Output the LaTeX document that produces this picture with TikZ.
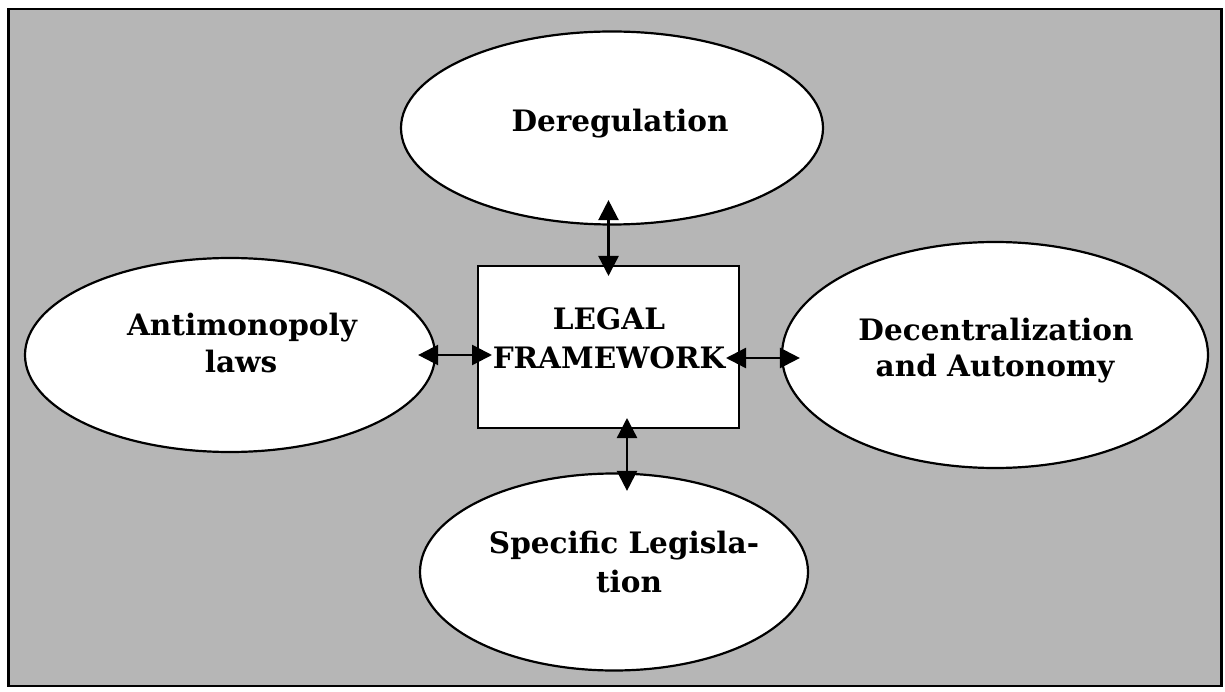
\documentclass[tikz,border=0pt]{standalone}
\usepackage{fontspec}
\setmainfont{DejaVu Serif}
\usetikzlibrary{shapes.geometric,arrows.meta}
\definecolor{bg}{RGB}{182,182,182}
\begin{document}
\begin{tikzpicture}[x=1pt,y=-1pt,
  oval/.style={ellipse,draw,line width=2.2pt,fill=white,inner sep=0pt},
  lbl/.style={font=\bfseries\fontsize{29.5}{36}\selectfont,inner sep=0pt,anchor=base},
  arr/.style={line width=2.4pt,{Triangle[length=20pt,width=20pt]}-{Triangle[length=20pt,width=20pt]}}]
\useasboundingbox (0,0) rectangle (1225,692);
\fill[white] (0,0) rectangle (1225,692);
\node[draw,line width=2.8pt,fill=bg,minimum width=1213pt,minimum height=677pt,inner sep=0pt] (frame) at (615,347.5) {};
% shapes
\node[oval,minimum width=422pt,minimum height=193pt] (dereg) at (612,128) {};
\node[oval,minimum width=410pt,minimum height=194pt] (anti) at (230,355) {};
\node[oval,minimum width=426pt,minimum height=226pt] (decent) at (995,355) {};
\node[oval,minimum width=388pt,minimum height=197pt] (spec) at (614,572) {};
\node[draw,line width=2pt,fill=white,minimum width=261pt,minimum height=162pt,inner sep=0pt] (box) at (608.5,347) {};
% texts
\node[lbl] (tdereg) at (620,132) {Deregulation};
\node[lbl] (tlegal) at (609,330) {LEGAL};
\node[lbl] (tframe) at (609,368) {FRAMEWORK};
\node[lbl] (tanti1) at (242,335) {Antimonopoly};
\node[lbl] (tanti2) at (241,372) {laws};
\node[lbl] (tdec1) at (996,340) {Decentralization};
\node[lbl] (tdec2) at (995,376) {and Autonomy};
\node[lbl] (tspec1) at (624,553) {Specif{}ic Legisla-};
\node[lbl] (tspec2) at (629,592) {tion};
% connectors
\draw[arr,shorten <=-25.5pt,shorten >=-11pt] (box.north |- dereg.south) -- (box.north);
\draw[arr,shorten <=-18pt,shorten >=-15pt] (anti.east) -- (anti.east -| box.west);
\draw[arr,shorten <=-14pt,shorten >=-19pt] ([yshift=-3pt]decent.west -| box.east) -- ([yshift=-3pt]decent.west);
\draw[arr,shorten <=-11pt,shorten >=-18.5pt] ([xshift=18.5pt]box.south) -- ([xshift=18.5pt]box.south |- spec.north);
\end{tikzpicture}
\end{document}
